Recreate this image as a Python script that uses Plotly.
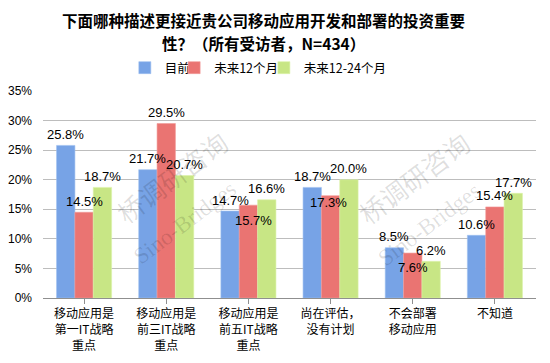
import plotly.graph_objects as go

categories = ["移动应用是<br>第一IT战略<br>重点", "移动应用是<br>前三IT战略<br>重点",
              "移动应用是<br>前五IT战略<br>重点", "尚在评估，<br>没有计划",
              "不会部署<br>移动应用", "不知道"]
series_names = ["目前", "未来12个月", "未来12-24个月"]
current = [25.8, 21.7, 14.7, 18.7, 8.5, 10.6]
next_12 = [14.5, 29.5, 15.7, 17.3, 7.6, 15.4]
next_12_24 = [18.7, 20.7, 16.6, 20.0, 6.2, 17.7]
y_ticks = [0, 5, 10, 15, 20, 25, 30, 35]
y_tick_labels = ["0%", "5%", "10%", "15%", "20%", "25%", "30%", "35%"]

series_values = [current, next_12, next_12_24]
colors = ["#77a3e6", "#ea7472", "#c8e685"]
line_colors = ["#9dbff0", "#f29a98", "#dcf3a8"]
legend_ids = ["legend", "legend2", "legend3"]
legend_x = [0.166, 0.266, 0.448]

# label offsets in pixels (default above the bar end); a few labels were moved in the source
label_dy = [[11] * 6, [11] * 6, [11] * 6]
label_dx = [[0] * 6, [0] * 6, [0] * 6]
label_dy[1][2] = -15; label_dx[1][2] = 5
label_dy[1][3] = -7; label_dx[1][3] = -2
label_dy[1][4] = -14

bargap = 0.33
fig = go.Figure()
for name, vals, c, lc, lg in zip(series_names, series_values, colors, line_colors, legend_ids):
    fig.add_trace(go.Bar(x=list(range(len(categories))), y=vals, name=name, legend=lg,
                         marker=dict(color=c, line=dict(color=lc, width=0.6))))

bw = (1 - bargap) / 3
annotations = []
for k, vals in enumerate(series_values):
    for i, v in enumerate(vals):
        annotations.append(dict(x=i + (k - 1) * bw, y=v, xref="x", yref="y",
                                text=f"{v:.1f}%", showarrow=False, yanchor="middle",
                                xanchor="center", yshift=label_dy[k][i], xshift=label_dx[k][i],
                                font=dict(family="Liberation Sans", size=13, color="#000")))

# title lines
title_font = dict(family="Noto Sans CJK SC", size=15.5, color="#000")
annotations.append(dict(text="<b>下面哪种描述更接近贵公司移动应用开发和部署的投资重要</b>",
                        xref="paper", yref="paper", x=0.448, y=1.343, showarrow=False,
                        xanchor="center", yanchor="middle", font=title_font))
annotations.append(dict(text="<b>性？（所有受访者，N=434）</b>",
                        xref="paper", yref="paper", x=0.448, y=1.232, showarrow=False,
                        xanchor="center", yanchor="middle", font=title_font))

# watermarks
wm_cn = dict(family="Noto Sans CJK SC", size=26, color="rgba(0,0,0,0.13)")
wm_en = dict(family="Liberation Serif", size=23, color="rgba(0,0,0,0.13)")
for (xc, yc, xe, ye) in [(0.262, 0.585, 0.288, 0.367), (0.752, 0.58, 0.784, 0.353)]:
    annotations.append(dict(text="桥调研咨询", xref="paper", yref="paper", x=xc, y=yc,
                            xanchor="center", yanchor="middle",
                            showarrow=False, textangle=-37, font=wm_cn))
    annotations.append(dict(text="Sino-Bridges", xref="paper", yref="paper", x=xe, y=ye,
                            xanchor="center", yanchor="middle",
                            showarrow=False, textangle=-37, font=wm_en))

legend_font = dict(family="Noto Sans CJK SC", size=12.5, color="#000")
legend_common = dict(orientation="h", y=1.111, xanchor="left", yanchor="middle",
                     font=legend_font, itemwidth=30, bgcolor="rgba(0,0,0,0)")

# the page body adds an 8px offset, so the figure is drawn 8px smaller on each side
fig.update_layout(
    width=542, height=355,
    margin=dict(l=35, r=14, t=83, b=65),
    paper_bgcolor="white", plot_bgcolor="white",
    barmode="group", bargap=bargap, bargroupgap=0,
    showlegend=True,
    legend=dict(x=legend_x[0], **legend_common),
    legend2=dict(x=legend_x[1], **legend_common),
    legend3=dict(x=legend_x[2], **legend_common),
    annotations=annotations,
    xaxis=dict(tickmode="array", tickvals=list(range(len(categories))), ticktext=categories,
               range=[-0.5, len(categories) - 0.5], automargin=False,
               tickfont=dict(family="Noto Sans CJK SC", size=12, color="#000"),
               showline=True, linecolor="#8f8f8f", linewidth=1,
               ticks="outside", tickson="boundaries", ticklen=5, tickcolor="#8f8f8f",
               showgrid=False),
    yaxis=dict(range=[0, 35], tickmode="array", tickvals=y_ticks, ticktext=y_tick_labels,
               automargin=False,
               tickfont=dict(family="Liberation Sans", size=12, color="#000"),
               showgrid=True, gridcolor="#bdbdbd", gridwidth=1,
               zeroline=False, showline=False, ticks="", ticklabelstandoff=10),
)

fig.write_html("out.html")
